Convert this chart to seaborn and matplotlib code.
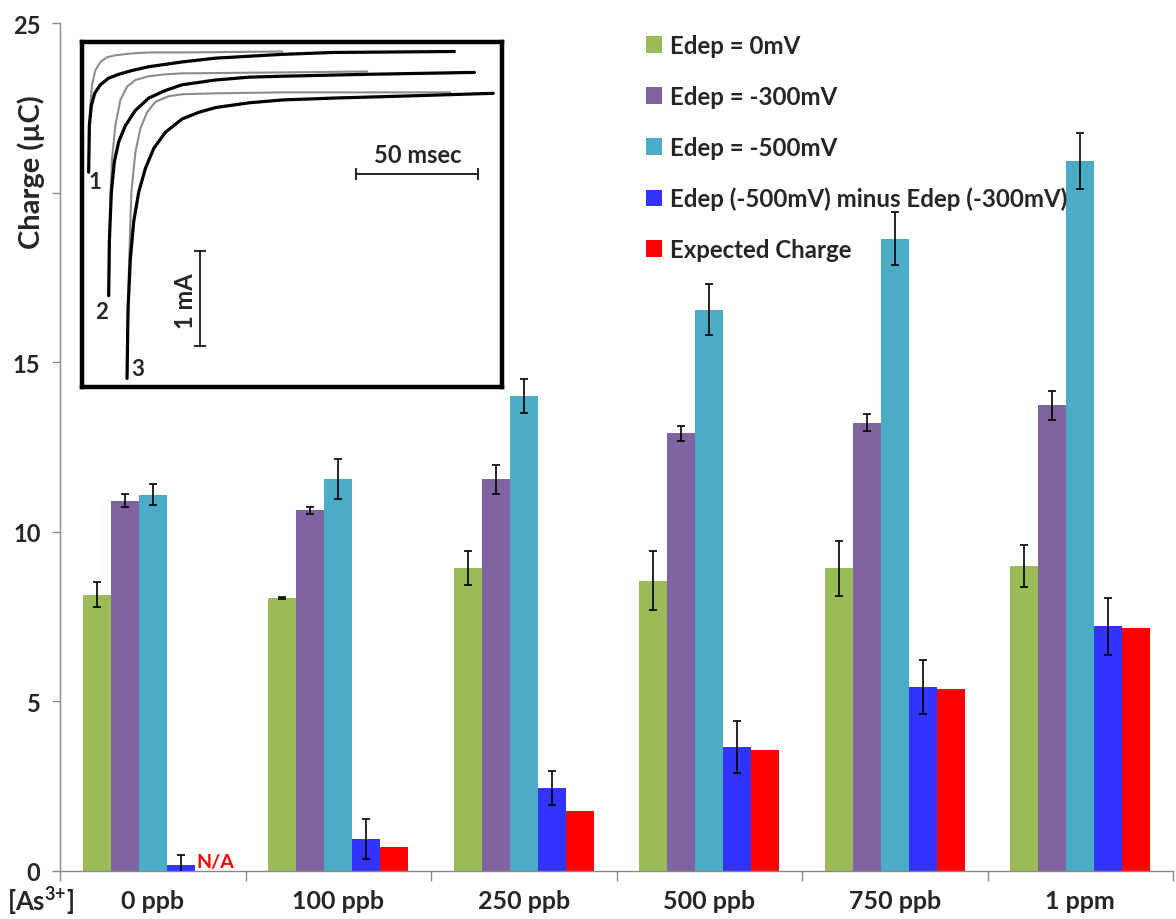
import numpy as np
import pandas as pd
import matplotlib
matplotlib.use("Agg")
import matplotlib.pyplot as plt
from matplotlib.patches import Patch
import seaborn as sns

# ---------------- data ----------------
categories = ['0 ppb', '100 ppb', '250 ppb', '500 ppb', '750 ppb', '1 ppm']
series = ['Edep = 0mV', 'Edep = -300mV', 'Edep = -500mV',
          'Edep (-500mV) minus Edep (-300mV)', 'Expected Charge']
edep_0 = [8.15, 8.04, 8.92, 8.56, 8.92, 8.99]
edep_0_err = [0.36, 0.03, 0.50, 0.88, 0.80, 0.62]
edep_300 = [10.92, 10.63, 11.55, 12.91, 13.21, 13.73]
edep_300_err = [0.20, 0.10, 0.43, 0.22, 0.25, 0.42]
edep_500 = [11.09, 11.56, 14.00, 16.55, 18.64, 20.94]
edep_500_err = [0.31, 0.60, 0.50, 0.75, 0.78, 0.83]
difference = [0.18, 0.93, 2.45, 3.65, 5.42, 7.22]
difference_err = [0.30, 0.59, 0.50, 0.76, 0.79, 0.84]
expected = [np.nan, 0.71, 1.78, 3.58, 5.37, 7.15]
y_ticks = [0, 5, 10, 15, 20, 25]
y_tick_labels = ['0', '5', '10', '15', '', '25']  # "20" is hidden in the original

# inset transients (time in msec, current in mA above box bottom)
black1_t = [2.73, 3.0, 3.83, 5.19, 7.51, 10.93, 15.03, 20.49, 27.32, 40.98,
            54.64, 68.31, 81.97, 102.9, 152.5]
black1_i = [2.26, 2.75, 2.96, 3.09, 3.18, 3.25, 3.29, 3.33, 3.37, 3.42,
            3.46, 3.48, 3.50, 3.52, 3.53]
gray1_t = [2.73, 3.28, 4.10, 5.46, 7.51, 10.25, 13.66, 20.49, 27.32, 40.98, 81.97]
gray1_i = [2.30, 2.93, 3.18, 3.33, 3.42, 3.47, 3.49, 3.51, 3.52, 3.52, 3.53]
black2_t = [10.93, 11.2, 12.02, 13.25, 15.03, 17.76, 21.86, 27.32, 34.15,
            40.98, 54.64, 68.31, 81.97, 116.8, 160.7]
black2_i = [0.96, 1.53, 2.05, 2.37, 2.58, 2.75, 2.91, 3.04, 3.12,
            3.18, 3.23, 3.26, 3.27, 3.29, 3.31]
gray2_t = [10.93, 11.48, 12.30, 13.66, 15.71, 18.44, 21.86, 27.32, 34.15,
           40.98, 81.97, 116.8]
gray2_i = [0.96, 1.88, 2.40, 2.75, 3.02, 3.16, 3.23, 3.27, 3.29,
           3.30, 3.31, 3.32]
black3_t = [18.44, 18.85, 19.81, 21.17, 23.22, 25.96, 29.37, 34.15, 40.98,
            47.81, 54.64, 68.31, 81.97, 102.9, 130.3, 168.4]
black3_i = [0.09, 0.82, 1.35, 1.74, 2.05, 2.30, 2.51, 2.68, 2.82,
            2.89, 2.94, 2.99, 3.02, 3.04, 3.06, 3.09]
gray3_t = [18.44, 19.13, 20.22, 21.86, 23.91, 26.64, 30.05, 35.52, 40.98,
           54.64, 81.97, 150.8]
gray3_i = [0.09, 1.18, 2.05, 2.47, 2.72, 2.89, 3.00, 3.06, 3.08,
           3.09, 3.10, 3.10]

colors = ['#9BBB59', '#8064A2', '#4BACC6', '#3333FF', '#FF0000']

# ---------------- style ----------------
sns.set_style("white")
plt.rcParams['font.family'] = ['Lato', 'DejaVu Sans']
plt.rcParams['font.weight'] = 'bold'
plt.rcParams['mathtext.fontset'] = 'custom'
plt.rcParams['mathtext.rm'] = 'Lato:bold'
plt.rcParams['mathtext.bf'] = 'Lato:bold'
plt.rcParams['mathtext.it'] = 'Lato:bold'

values = [edep_0, edep_300, edep_500, difference, expected]
errors = [edep_0_err, edep_300_err, edep_500_err, difference_err, None]
rows = []
for s, vals in zip(series, values):
    for c, v in zip(categories, vals):
        rows.append({'conc': c, 'series': s, 'charge': v})
df = pd.DataFrame(rows)

fig = plt.figure(figsize=(11.76, 9.2), dpi=100)
ax = fig.add_axes([60 / 1176, 48 / 920, 1113 / 1176, 848 / 920])

sns.barplot(data=df, x='conc', y='charge', hue='series', order=categories,
            hue_order=series, palette=colors, saturation=1, width=0.757,
            gap=0, errorbar=None, legend=False, ax=ax, linewidth=0)

# error bars
for si, cont in enumerate(ax.containers):
    err = errors[si] if si < len(errors) else None
    if err is None:
        continue
    for bar in cont:
        h = bar.get_height()
        if np.isnan(h):
            continue
        xc = bar.get_x() + bar.get_width() / 2
        ci = int(round(xc))
        ax.errorbar(xc, h, yerr=err[ci], fmt='none', ecolor='black',
                    elinewidth=1.2, capsize=3, capthick=1.2, zorder=5)

# N/A label
bar_w = 0.757 / len(series)
for i, v in enumerate(expected):
    if np.isnan(v):
        ax.text(i + 1.5 * bar_w + 0.01, 0.02, 'N/A', color='#FF0000',
                fontsize=14, fontweight='bold', ha='left', va='bottom')

ax.set_xlim(-0.5, len(categories) - 0.5)
ax.set_ylim(0, 25)
ax.set_yticks(y_ticks)
ax.set_yticklabels(y_tick_labels, fontsize=17, fontweight='bold')
ax.set_xticks(range(len(categories)))
ax.set_xticklabels(categories, fontsize=18, fontweight='bold')
ax.set_xticks(np.arange(-0.5, len(categories) + 0.5, 1), minor=True)
ax.tick_params(axis='x', which='major', length=0, pad=13)
ax.tick_params(axis='x', which='minor', length=7, width=1, color='#898989',
               direction='out', bottom=True)
ax.tick_params(axis='y', length=6, width=1, color='#898989', direction='out',
               left=True, pad=8)
ax.set_xlabel('')
ax.set_ylabel('')
for side in ['top', 'right']:
    ax.spines[side].set_visible(False)
for side in ['left', 'bottom']:
    ax.spines[side].set_color('#898989')
    ax.spines[side].set_linewidth(1)

fig.text(31 / 1176, 1 - 172 / 920, 'Charge (µC)', rotation=90, ha='center',
         va='center', fontsize=21, fontweight='bold')
fig.text(41 / 1176, 1 - 911 / 920, '[As$^{3{+}}$]', ha='center',
         va='baseline', fontsize=18.5, fontweight='bold')

# legend
handles = [Patch(facecolor=c, edgecolor='none') for c in colors]
ax.legend(handles, series, loc='upper left',
          bbox_to_anchor=(646 / 1176, 1 - 35 / 920),
          bbox_transform=fig.transFigure, frameon=False, fontsize=17.3,
          handlelength=0.68, handleheight=0.68, handletextpad=0.3,
          labelspacing=1.16, borderpad=0, borderaxespad=0)

# inset
ins = fig.add_axes([82 / 1176, 1 - 388 / 920, 420 / 1176, 345 / 920])
ins.set_facecolor('white')
ins.set_xlim(0, 172)
ins.set_ylim(0, 3.63)
ins.set_xticks([])
ins.set_yticks([])
for s in ins.spines.values():
    s.set_visible(True)
    s.set_color('black')
    s.set_linewidth(3.2)
for t, i in [(gray1_t, gray1_i), (gray2_t, gray2_i), (gray3_t, gray3_i)]:
    sns.lineplot(x=t, y=i, ax=ins, color='#8C8C8C', lw=1.5, sort=False,
                 estimator=None)
for t, i in [(black1_t, black1_i), (black2_t, black2_i), (black3_t, black3_i)]:
    sns.lineplot(x=t, y=i, ax=ins, color='black', lw=2.3, sort=False,
                 estimator=None)

ins.plot([112.3, 162.3], [2.24, 2.24], color='black', lw=1.2)
ins.plot([112.3, 162.3], [2.24, 2.24], color='black', lw=0, marker='|',
         markersize=8, markeredgewidth=1.2)
ins.text(137.3, 2.33, '50 msec', ha='center', va='bottom', fontsize=17,
         fontweight='bold')
ins.plot([48.4, 48.4], [0.43, 1.43], color='black', lw=1.2)
ins.plot([48.4, 48.4], [0.43, 1.43], color='black', lw=0, marker='_',
         markersize=8, markeredgewidth=1.2)
ins.text(42.4, 0.91, '1 mA', rotation=90, ha='center', va='center',
         fontsize=17, fontweight='bold')
ins.text(5.5, 2.16, '1', ha='center', va='center', fontsize=16, fontweight='bold')
ins.text(8.0, 0.79, '2', ha='center', va='center', fontsize=16, fontweight='bold')
ins.text(23.0, 0.19, '3', ha='center', va='center', fontsize=16, fontweight='bold')

fig.savefig('out.png', dpi=100)
